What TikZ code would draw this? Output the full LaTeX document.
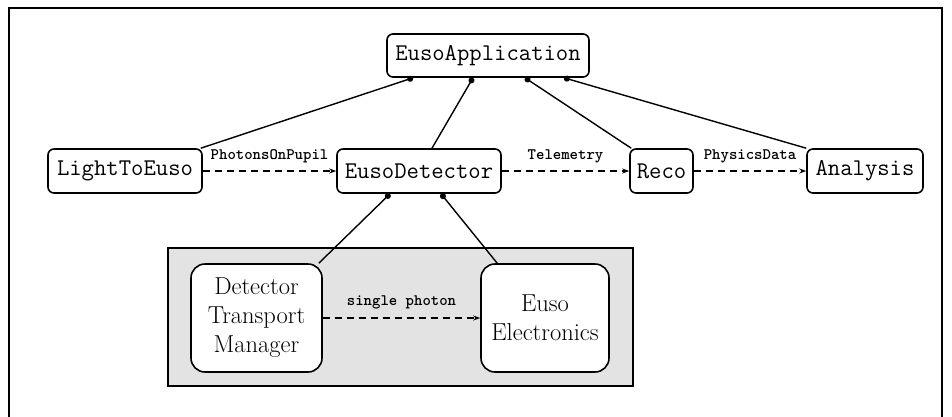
\documentclass[tikz,border=0pt]{standalone}
\usetikzlibrary{arrows.meta}
\begin{document}
\begin{tikzpicture}[x=1pt,y=-1pt,
  box/.style={draw,rounded corners=6pt,line width=1.6pt,fill=white,inner sep=0pt},
  ttbox/.style={box,font=\fontsize{24}{28}\selectfont\ttfamily,minimum height=44pt},
  rmbox/.style={box,font=\fontsize{24.5}{29}\selectfont,align=center,minimum height=108pt,rounded corners=14pt},
  part/.style={line width=1.4pt,-{Circle[length=6pt]}},
  flow/.style={line width=1.2pt,dash pattern=on 7pt off 5pt,-{Stealth[length=7pt,width=5pt]}},
  lbl/.style={font=\fontsize{16}{18}\selectfont\ttfamily\bfseries,inner sep=0pt}]
\useasboundingbox (0,0) rectangle (952,416);
\draw[line width=2pt] (9,430) -- (9,8) -- (942,8) -- (942,430);
% group box
\node[draw,fill=gray!22,line width=1.2pt,minimum width=465pt,minimum height=138pt,inner sep=0pt] (grp) at (400.5,317) {};
% nodes
\node[ttbox,minimum width=202pt,minimum height=43pt] (app) at (488,55.5) {EusoApplication};
\node[ttbox,minimum width=154pt] (lte) at (125,171) {LightToEuso};
\node[ttbox,minimum width=164pt] (det) at (419,171) {EusoDetector};
\node[ttbox,minimum width=63pt] (reco) at (661.5,171) {Reco};
\node[ttbox,minimum width=116pt] (ana) at (865,171) {Analysis};
\node[rmbox,minimum width=131pt] (dtm) at (256.5,318) {Detector\\Transport\\Manager};
\node[rmbox,minimum width=128pt] (ee) at (545,318) {Euso\\Electronics};
% composition lines
\draw[part] ([xshift=-2pt]lte.north east) -- ([xshift=-75pt]app.south);
\draw[part] ([xshift=13pt]det.north) -- ([xshift=-15pt]app.south);
\draw[part] ([xshift=2pt]reco.north west) -- ([xshift=37pt]app.south);
\draw[part] (ana.north west) -- ([xshift=76pt]app.south);
\draw[part] ([xshift=-4pt]dtm.north east) -- ([xshift=-29pt]det.south);
\draw[part] ([xshift=17pt]ee.north west) -- ([xshift=22pt]det.south);
% data flows
\draw[flow] (lte) -- node[lbl,above=7pt]{PhotonsOnPupil} (det);
\draw[flow] (det) -- node[lbl,above=7pt]{Telemetry} (reco);
\draw[flow] (reco) -- node[lbl,above=7pt]{PhysicsData} (ana);
\draw[flow] (dtm) -- node[lbl,above=8pt]{single photon} (ee);
\end{tikzpicture}
\end{document}
